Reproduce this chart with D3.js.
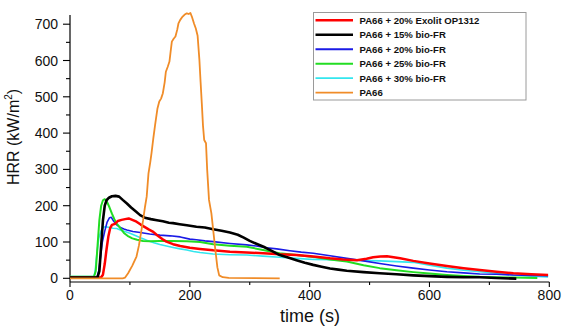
<!DOCTYPE html>
<html>
<head>
<meta charset="utf-8">
<script src="https://cdn.jsdelivr.net/npm/d3@7/dist/d3.min.js"></script>
<style>
  html, body { margin: 0; padding: 0; background: #fff; }
  svg { display: block; }
  text { font-family: "Liberation Sans", Arial, sans-serif; }
</style>
</head>
<body>
<svg id="chart" width="567" height="328"></svg>
<script>
// ---- Data (time in s, HRR in kW/m²) ----
const seriesNames = [
  "PA66 + 20% Exolit OP1312",
  "PA66 + 15% bio-FR",
  "PA66 + 20% bio-FR",
  "PA66 + 25% bio-FR",
  "PA66 + 30% bio-FR",
  "PA66"
];
const seriesColors = ["#ff0000", "#000000", "#1a1ae6", "#22dd22", "#33e6ee", "#f08c28"];

const exolit20 = [[0,2],[52,3],[55,10],[58,40],[61,80],[64,115],[67,138],[70,147],[75,150],[80,158],[86,161],[92,163],[98,165],[104,161],[111,156],[118,148],[125,141],[132,134],[139,128],[146,118],[154,108],[161,101],[172,94],[184,89],[200,84],[217,81],[239,77],[267,73],[295,71],[323,69],[350,66],[378,64],[406,60],[434,55],[456,52],[479,50],[495,54],[506,58],[518,60],[529,61],[540,58],[551,55],[573,48],[600,41],[629,34],[657,28],[684,23],[712,18],[740,14],[770,11],[798,9]];
const bio15 = [[0,2],[46,3],[49,20],[52,90],[55,160],[58,200],[61,215],[65,222],[70,226],[76,227],[82,225],[88,216],[95,206],[102,195],[110,184],[117,174],[125,167],[135,163],[145,160],[155,157],[165,153],[172,152],[183,149],[195,146],[211,142],[225,140],[239,135],[253,131],[267,126],[280,120],[290,112],[300,103],[310,96],[323,87],[336,76],[350,64],[364,57],[378,50],[392,43],[406,37],[420,32],[434,27],[448,24],[462,21],[490,17],[517,14],[545,11],[573,8],[600,6],[629,4],[657,3],[684,3],[712,1],[745,-1]];
const bio20 = [[0,3],[45,3],[48,20],[51,60],[54,100],[58,130],[62,155],[66,167],[69,168],[73,157],[78,147],[84,140],[90,136],[95,133],[105,129],[117,126],[133,122],[150,119],[167,117],[184,114],[200,108],[211,106],[225,103],[239,101],[267,96],[295,92],[311,89],[328,84],[345,81],[367,76],[386,72],[406,69],[434,62],[462,55],[490,48],[517,41],[545,34],[573,28],[600,23],[629,18],[657,15],[684,12],[712,11],[740,9],[770,8],[798,7]];
const bio25 = [[0,4],[40,4],[43,20],[46,90],[49,160],[52,200],[55,215],[58,218],[62,210],[66,195],[70,178],[74,163],[78,151],[84,138],[90,125],[96,117],[104,110],[112,106],[122,103],[134,102],[150,103],[172,103],[195,102],[217,100],[239,94],[267,90],[295,87],[322,78],[350,69],[378,64],[406,59],[434,52],[462,46],[490,36],[517,28],[545,22],[573,17],[600,13],[629,9],[657,6],[684,4],[712,3],[740,2],[780,1]];
const bio30 = [[0,5],[40,5],[42,20],[45,70],[48,110],[52,132],[56,141],[60,142],[66,140],[72,138],[78,137],[86,132],[93,128],[100,124],[110,117],[120,110],[128,105],[140,98],[150,93],[161,89],[172,85],[184,81],[195,78],[206,74],[217,71],[239,67],[267,65],[295,64],[322,61],[350,58],[378,55],[406,52],[434,51],[462,50],[490,49],[517,48],[545,46],[573,44],[600,36],[629,28],[657,22],[684,18],[712,14],[740,9],[770,6],[798,4]];
const pa66 = [[0,0],[88,0],[92,2],[97,14],[104,35],[111,60],[115,90],[119,130],[122,160],[125,195],[128,225],[131,289],[134,320],[136,344],[139,385],[142,422],[146,468],[149,487],[152,495],[155,510],[158,540],[160,569],[163,582],[166,597],[168,625],[170,652],[173,660],[176,666],[179,685],[181,702],[184,712],[188,721],[191,726],[195,730],[198,728],[201,731],[204,718],[207,702],[210,688],[213,668],[216,601],[218,540],[220,482],[222,420],[224,381],[227,372],[229,298],[232,216],[236,179],[242,87],[246,30],[249,8],[255,3],[265,1],[350,0]];

const xMajorTicks = [0, 200, 400, 600, 800];
const xMinorTicks = [100, 300, 500, 700];
const yMajorTicks = [0, 100, 200, 300, 400, 500, 600, 700];
const yMinorTicks = [50, 150, 250, 350, 450, 550, 650];

const seriesData = [exolit20, bio15, bio20, bio25, bio30, pa66];
const seriesWidths = [2.5, 2.6, 1.6, 2, 1.6, 1.8];
const drawOrder = [4, 2, 3, 0, 1, 5];

// ---- Layout ----
const svg = d3.select("#chart");
const x = d3.scaleLinear().domain([0, 800]).range([70, 549.3]);
const y = d3.scaleLinear().domain([0, 700]).range([278.3, 24.2]);
const axisY = 282;

// y axis
const yAxisG = svg.append("g").attr("transform", "translate(70,0)");
yAxisG.append("line").attr("x1", 0).attr("x2", 0).attr("y1", 15).attr("y2", axisY).attr("stroke", "#000").attr("stroke-width", 1.2);
yAxisG.call(g => g.selectAll(".maj").data(yMajorTicks).enter().append("line")
  .attr("x1", -7).attr("x2", 0).attr("y1", d => y(d)).attr("y2", d => y(d)).attr("stroke", "#000").attr("stroke-width", 1.1));
yAxisG.call(g => g.selectAll(".min").data(yMinorTicks).enter().append("line")
  .attr("x1", -4).attr("x2", 0).attr("y1", d => y(d)).attr("y2", d => y(d)).attr("stroke", "#000").attr("stroke-width", 1.1));
yAxisG.selectAll(".ylab").data(yMajorTicks).enter().append("text")
  .attr("x", -12).attr("y", d => y(d)).attr("dy", "0.36em").attr("text-anchor", "end")
  .attr("font-size", 14).attr("fill", "#111").text(d => d);

// x axis
const xAxisG = svg.append("g").attr("transform", `translate(0,${axisY})`);
xAxisG.append("line").attr("x1", 70).attr("x2", 549.3).attr("y1", 0).attr("y2", 0).attr("stroke", "#000").attr("stroke-width", 1.2);
xAxisG.selectAll(".xmaj").data(xMajorTicks).enter().append("line")
  .attr("x1", d => x(d)).attr("x2", d => x(d)).attr("y1", 0).attr("y2", 5).attr("stroke", "#000").attr("stroke-width", 1.1);
xAxisG.selectAll(".xmin").data(xMinorTicks).enter().append("line")
  .attr("x1", d => x(d)).attr("x2", d => x(d)).attr("y1", 0).attr("y2", 3).attr("stroke", "#000").attr("stroke-width", 1.1);
xAxisG.selectAll(".xlab").data(xMajorTicks).enter().append("text")
  .attr("x", d => x(d)).attr("y", 18).attr("text-anchor", "middle")
  .attr("font-size", 14).attr("fill", "#111").text(d => d);

// axis titles
svg.append("text").attr("x", 310).attr("y", 322).attr("text-anchor", "middle")
  .attr("font-size", 18).attr("fill", "#111").text("time (s)");
const yt = svg.append("text").attr("transform", "translate(19,137) rotate(-90)")
  .attr("text-anchor", "middle").attr("font-size", 16).attr("fill", "#111");
yt.append("tspan").text("HRR (kW/m");
yt.append("tspan").attr("font-size", 10).attr("dy", -7).text("2");
yt.append("tspan").attr("dy", 7).text(")");

// lines
const line = d3.line().x(d => x(d[0])).y(d => y(d[1])).curve(d3.curveLinear);
drawOrder.forEach(i => {
  svg.append("path").datum(seriesData[i]).attr("d", line)
    .attr("fill", "none").attr("stroke", seriesColors[i])
    .attr("stroke-width", seriesWidths[i]).attr("stroke-linejoin", "round");
});

// legend
const lg = svg.append("g");
lg.append("rect").attr("x", 313.5).attr("y", 12.5).attr("width", 212.5).attr("height", 87.5)
  .attr("fill", "#fff").attr("stroke", "#9a9a9a").attr("stroke-width", 1);
const legendY = d3.scaleLinear().domain([0, 5]).range([20.3, 92.7]);
const labels = [];
seriesNames.forEach((name, i) => {
  lg.append("line").attr("x1", 315.5).attr("x2", 353).attr("y1", legendY(i)).attr("y2", legendY(i))
    .attr("stroke", seriesColors[i]).attr("stroke-width", i < 2 ? 2.5 : 1.8);
  labels.push(lg.append("text").attr("x", 359.5).attr("y", legendY(i)).attr("dy", "0.36em")
    .attr("font-family", "Lato, 'Open Sans', sans-serif").attr("font-weight", "bold")
    .attr("font-size", 10).attr("fill", "#111").text(name));
});
// fit the font size so the longest label spans ~120px as in the reference
const w0 = labels[0].node().getComputedTextLength();
const fs = Math.max(8, Math.min(12, 10 * 120 / w0));
labels.forEach(t => t.attr("font-size", fs));
</script>
</body>
</html>
